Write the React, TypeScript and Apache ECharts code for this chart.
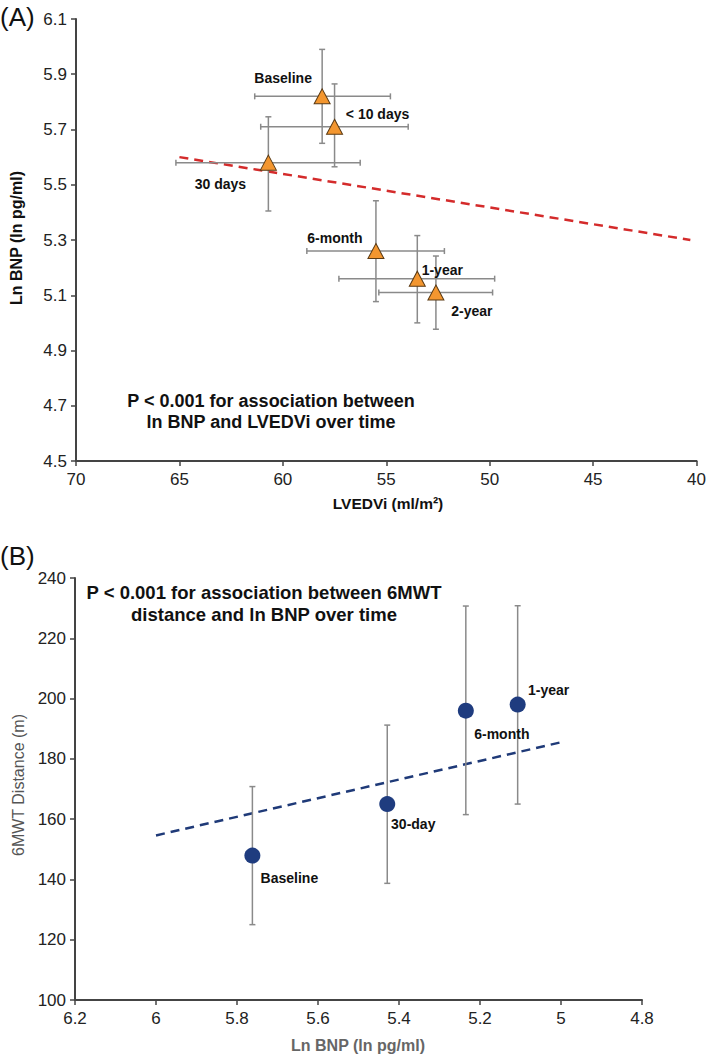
import React, { useEffect, useRef } from "react";
import * as echarts from "echarts";

// Panel A data
const labelsA = ["Baseline", "< 10 days", "30 days", "6-month", "1-year", "2-year"];
const lvedvi = [58.1, 57.5, 60.7, 55.5, 53.5, 52.6];
const lvedviLeft = [61.36, 61.07, 65.17, 58.84, 57.29, 55.36];
const lvedviRight = [54.8, 53.94, 56.26, 52.19, 49.76, 49.86];
const lnBnpA = [5.82, 5.71, 5.58, 5.26, 5.16, 5.11];
const lnBnpALo = [5.65, 5.565, 5.405, 5.077, 5.0, 4.977];
const lnBnpAHi = [5.99, 5.865, 5.746, 5.442, 5.316, 5.242];
const trendA = [
  [65, 5.6],
  [40.3, 5.3],
];
const labelOffsetA = [
  [-39, -18],
  [43, -13],
  [-48, 21],
  [-41, -13],
  [25, -9],
  [36, 19],
];

// Panel B data
const labelsB = ["Baseline", "30-day", "6-month", "1-year"];
const lnBnpB = [5.762, 5.429, 5.235, 5.107];
const walk = [147.9, 165.0, 196.0, 198.0];
const walkLo = [125.0, 138.7, 161.5, 165.0];
const walkHi = [170.8, 191.2, 230.7, 230.8];
const trendB = [
  [6.0, 154.6],
  [5.0, 185.5],
];
const labelOffsetB = [
  [37, 22],
  [26, 20],
  [36, 23],
  [31, -15],
];

const FONT = "Liberation Sans, Arial, sans-serif";
const BAR = "#8a8a8a";

export default function App() {
  const ref = useRef<HTMLDivElement>(null);
  useEffect(() => {
    if (!ref.current) return;
    const chart = echarts.init(ref.current, undefined, { renderer: "svg" });

    const errA = lvedvi.map((x, i) => [x, lnBnpA[i], lvedviLeft[i], lvedviRight[i], lnBnpALo[i], lnBnpAHi[i]]);
    const errB = lnBnpB.map((x, i) => [x, walk[i], walkLo[i], walkHi[i]]);

    const lineStyle = { stroke: BAR, lineWidth: 1.5 };

    const renderA = (params: any, api: any) => {
      const x = api.value(0), y = api.value(1);
      const l = api.coord([api.value(2), y]);
      const r = api.coord([api.value(3), y]);
      const b = api.coord([x, api.value(4)]);
      const t = api.coord([x, api.value(5)]);
      const c = 3;
      return {
        type: "group",
        children: [
          { type: "line", shape: { x1: l[0], y1: l[1], x2: r[0], y2: r[1] }, style: lineStyle },
          { type: "line", shape: { x1: l[0], y1: l[1] - c, x2: l[0], y2: l[1] + c }, style: lineStyle },
          { type: "line", shape: { x1: r[0], y1: r[1] - c, x2: r[0], y2: r[1] + c }, style: lineStyle },
          { type: "line", shape: { x1: b[0], y1: b[1], x2: t[0], y2: t[1] }, style: lineStyle },
          { type: "line", shape: { x1: b[0] - c, y1: b[1], x2: b[0] + c, y2: b[1] }, style: lineStyle },
          { type: "line", shape: { x1: t[0] - c, y1: t[1], x2: t[0] + c, y2: t[1] }, style: lineStyle },
        ],
      };
    };
    const renderB = (params: any, api: any) => {
      const x = api.value(0);
      const b = api.coord([x, api.value(2)]);
      const t = api.coord([x, api.value(3)]);
      const c = 3;
      return {
        type: "group",
        children: [
          { type: "line", shape: { x1: b[0], y1: b[1], x2: t[0], y2: t[1] }, style: lineStyle },
          { type: "line", shape: { x1: b[0] - c, y1: b[1], x2: b[0] + c, y2: b[1] }, style: lineStyle },
          { type: "line", shape: { x1: t[0] - c, y1: t[1], x2: t[0] + c, y2: t[1] }, style: lineStyle },
        ],
      };
    };

    const axisCommon = {
      axisLine: { show: true, lineStyle: { color: "#444", width: 2 } },
      axisTick: { show: true, inside: false, length: 5, lineStyle: { color: "#444", width: 1.5 } },
      splitLine: { show: false },
    };
    const tickLabel = { color: "#222", fontSize: 17, fontFamily: FONT };
    const pointLabel = {
      show: true,
      position: "inside",
      color: "#111",
      textBorderWidth: 0,
      textBorderColor: "transparent",
      fontSize: 14,
      fontWeight: "bold",
      fontFamily: FONT,
    };

    chart.setOption({
      animation: false,
      backgroundColor: "#fff",
      grid: [
        { left: 76, top: 19, width: 622, height: 442 },
        { left: 75, top: 578, width: 567, height: 422 },
      ],
      xAxis: [
        {
          type: "value", gridIndex: 0, min: 40, max: 70, interval: 5, inverse: true,
          ...axisCommon,
          axisLabel: { ...tickLabel, margin: 10 },
        },
        {
          type: "value", gridIndex: 1, min: 4.8, max: 6.2, interval: 0.2, inverse: true,
          ...axisCommon,
          axisLabel: { ...tickLabel, margin: 10, formatter: (v: number) => String(Math.round(v * 10) / 10) },
        },
      ],
      yAxis: [
        {
          type: "value", gridIndex: 0, min: 4.5, max: 6.1, interval: 0.2,
          ...axisCommon,
          axisLabel: { ...tickLabel, margin: 9, formatter: (v: number) => v.toFixed(1) },
        },
        {
          type: "value", gridIndex: 1, min: 100, max: 240, interval: 20,
          ...axisCommon,
          axisLabel: { ...tickLabel, margin: 9 },
        },
      ],
      series: [
        {
          type: "line", xAxisIndex: 0, yAxisIndex: 0, data: trendA, symbol: "none",
          lineStyle: { color: "#D42B2B", width: 2.5, type: [9, 6] }, z: 1,
        },
        {
          type: "custom", xAxisIndex: 0, yAxisIndex: 0, data: errA, renderItem: renderA, z: 2,
          encode: { x: 0, y: 1 },
        },
        {
          type: "scatter", xAxisIndex: 0, yAxisIndex: 0, symbol: "triangle", symbolSize: [16, 15],
          itemStyle: { color: "#F3962F", borderColor: "#5a3a14", borderWidth: 1, opacity: 1 },
          data: lvedvi.map((x, i) => ({
            value: [x, lnBnpA[i]],
            label: { ...pointLabel, formatter: labelsA[i], offset: labelOffsetA[i] },
          })),
          z: 3,
        },
        {
          type: "line", xAxisIndex: 1, yAxisIndex: 1, data: trendB, symbol: "none",
          lineStyle: { color: "#1F3A78", width: 2.5, type: [9, 6] }, z: 1,
        },
        {
          type: "custom", xAxisIndex: 1, yAxisIndex: 1, data: errB, renderItem: renderB, z: 2,
          encode: { x: 0, y: 1 },
        },
        {
          type: "scatter", xAxisIndex: 1, yAxisIndex: 1, symbol: "circle", symbolSize: 16,
          itemStyle: { color: "#1F3C7F", opacity: 1 },
          data: lnBnpB.map((x, i) => ({
            value: [x, walk[i]],
            label: { ...pointLabel, formatter: labelsB[i], offset: labelOffsetB[i] },
          })),
          z: 3,
        },
      ],
      graphic: [
        { type: "text", x: 0, y: 17, style: { text: "(A)", font: `26px ${FONT}`, fill: "#111", align: "left", verticalAlign: "middle" } },
        { type: "text", x: 0, y: 556, style: { text: "(B)", font: `26px ${FONT}`, fill: "#111", align: "left", verticalAlign: "middle" } },
        {
          type: "text", x: 16, y: 238, rotation: Math.PI / 2,
          style: { text: "Ln BNP (ln pg/ml)", font: `bold 16px ${FONT}`, fill: "#111", align: "center", verticalAlign: "middle" },
        },
        {
          type: "text", x: 388, y: 503,
          style: { text: "LVEDVi (ml/m²)", font: `bold 15.5px ${FONT}`, fill: "#111", align: "center", verticalAlign: "middle" },
        },
        {
          type: "text", x: 271, y: 390,
          style: {
            text: "P < 0.001 for association between\nln BNP and LVEDVi over time",
            font: `bold 18px ${FONT}`, lineHeight: 21, fill: "#111", align: "center", verticalAlign: "top",
          },
        },
        {
          type: "text", x: 18, y: 785, rotation: Math.PI / 2,
          style: { text: "6MWT Distance (m)", font: `16px ${FONT}`, fill: "#555", align: "center", verticalAlign: "middle" },
        },
        {
          type: "text", x: 358, y: 1045,
          style: { text: "Ln BNP (ln pg/ml)", font: `bold 16px ${FONT}`, fill: "#666", align: "center", verticalAlign: "middle" },
        },
        {
          type: "text", x: 264, y: 581,
          style: {
            text: "P < 0.001 for association between 6MWT\ndistance and ln BNP over time",
            font: `bold 18.5px ${FONT}`, lineHeight: 22, fill: "#111", align: "center", verticalAlign: "top",
          },
        },
      ],
    });
    return () => chart.dispose();
  }, []);
  return <div ref={ref} style={{ position: "absolute", left: 0, top: 0, width: 709, height: 1055 }} />;
}
